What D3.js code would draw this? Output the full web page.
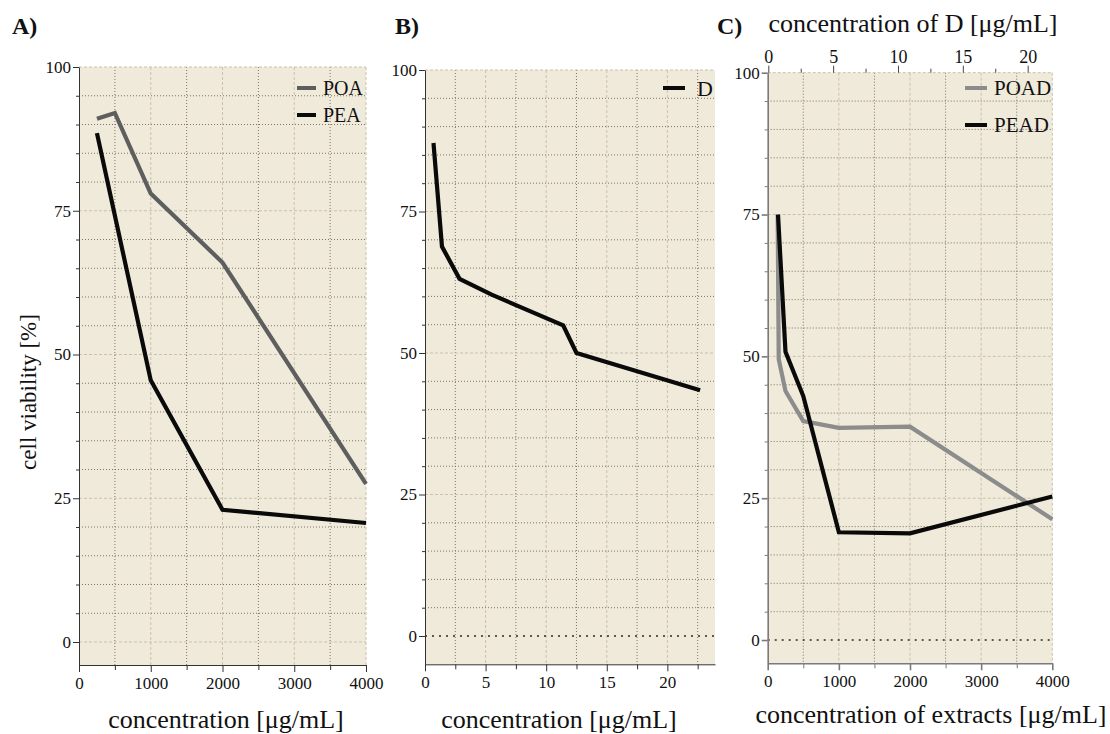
<!DOCTYPE html>
<html>
<head>
<meta charset="utf-8">
<script src="https://cdn.jsdelivr.net/npm/d3@7"></script>
<style>
  body { margin: 0; background: #fff; }
  svg text { font-family: "Liberation Serif", "DejaVu Serif", serif; fill: #111; }
</style>
</head>
<body>
<div id="chart"></div>
<script>
// values
var viabTicks = [0, 25, 50, 75, 100];
var extractTicks = [0, 1000, 2000, 3000, 4000];
var dTicks = [0, 5, 10, 15, 20];

var poaConc = [250, 500, 1000, 2000, 4000];
var poaViab = [91, 92, 78, 66, 27.5];
var peaConc = [250, 1000, 2000, 4000];
var peaViab = [88.5, 45.5, 23, 20.7];

var dConc = [0.7, 1.4, 2.85, 5.5, 11.4, 12.5, 22.7];
var dViab = [87.1, 68.8, 63.1, 60.3, 54.9, 50, 43.4];

var poadConc = [140, 155, 250, 500, 1000, 2000, 4000];
var poadViab = [75, 49.5, 43.9, 38.6, 37.4, 37.6, 21.3];
var peadConc = [145, 250, 500, 1000, 2000, 4000];
var peadViab = [75, 50.8, 43, 19, 18.8, 25.3];

var svg = d3.select("#chart").append("svg")
    .attr("width", 1110)
    .attr("height", 734)
    .attr("font-family", "Liberation Serif, DejaVu Serif, serif");

var bg = "#f0eadb";
var minorGrid = "#7d7464";
var majorGrid = "#cbc1ab";
var fmt = d3.format("d");

function zip(xs, ys) {
    return xs.map(function (v, i) { return [v, ys[i]]; });
}

function drawPanel(p) {
    var g = svg.append("g");
    var x = d3.scaleLinear().domain(p.xDomain).range([p.left, p.right]);
    var y = d3.scaleLinear().domain(p.yDomain).range([p.bottom, p.top]);

    g.append("rect")
        .attr("x", p.left).attr("y", y(100))
        .attr("width", p.right - p.left).attr("height", p.bottom - y(100))
        .attr("fill", bg);

    // vertical grid, half steps dotted darker, whole steps light dashed
    var vx = d3.range(p.xStep / 2, p.xDomain[1] + 0.001, p.xStep / 2);
    g.selectAll(".vgrid").data(vx).enter().append("line")
        .attr("x1", function (d) { return x(d); })
        .attr("x2", function (d) { return x(d); })
        .attr("y1", y(100)).attr("y2", p.bottom)
        .attr("stroke", function (d, i) { return i % 2 == 0 ? minorGrid : majorGrid; })
        .attr("stroke-width", 1)
        .attr("stroke-dasharray", function (d, i) { return i % 2 == 0 ? "1,2" : "3,2"; });

    var hy = d3.range(0, 101, 5);
    g.selectAll(".hgrid").data(hy).enter().append("line")
        .attr("x1", p.left).attr("x2", p.right)
        .attr("y1", function (d) { return y(d); })
        .attr("y2", function (d) { return y(d); })
        .attr("stroke", function (d) {
            if (d == 0 && p.darkZero) return "#2a2a2a";
            return d % 25 == 0 ? majorGrid : minorGrid;
        })
        .attr("stroke-width", function (d) { return d == 0 && p.darkZero ? 1.6 : 1; })
        .attr("stroke-dasharray", function (d) {
            if (d == 0 && p.darkZero) return "2,5";
            return d % 25 == 0 ? "3,2" : "1,2";
        });

    var line = d3.line()
        .x(function (d) { return x(d[0]); })
        .y(function (d) { return y(d[1]); });

    p.series.forEach(function (s) {
        g.append("path")
            .datum(zip(s.conc, s.viab))
            .attr("d", line)
            .attr("fill", "none")
            .attr("stroke", s.color)
            .attr("stroke-width", 4.2);
    });

    // axes
    var yAxis = g.append("g")
        .attr("transform", "translate(" + p.left + ",0)")
        .call(d3.axisLeft(y).tickValues(viabTicks).tickFormat(fmt)
            .tickSize(6).tickSizeOuter(0).tickPadding(2));
    g.append("g")
        .attr("transform", "translate(" + p.left + ",0)")
        .call(d3.axisLeft(y).tickValues(hy.filter(function (d) { return d % 25 != 0; }))
            .tickSize(3).tickSizeOuter(0).tickFormat(""))
        .select(".domain").remove();

    var xAxis = g.append("g")
        .attr("transform", "translate(0," + p.bottom + ")")
        .call(d3.axisBottom(x).tickValues(p.xTicks).tickFormat(fmt)
            .tickSize(7).tickSizeOuter(0).tickPadding(5));
    g.append("g")
        .attr("transform", "translate(0," + p.bottom + ")")
        .call(d3.axisBottom(x).tickValues(p.xTicks.map(function (d) { return d + p.xStep / 2; })
            .filter(function (d) { return d <= p.xDomain[1]; }))
            .tickSize(5).tickSizeOuter(0).tickFormat(""))
        .select(".domain").remove();

    [yAxis, xAxis].forEach(function (a) {
        a.attr("font-family", null).attr("font-size", null);
        a.selectAll("text").attr("font-size", "17px").style("fill", "#111");
        a.selectAll("path,line").attr("stroke", p.axisColor).attr("stroke-width", p.axisWidth);
    });
    g.selectAll(".tick line").attr("stroke", p.axisColor);

    // legend
    p.series.forEach(function (s, i) {
        if (!s.label) return;
        var ly = p.legendY[i];
        g.append("line")
            .attr("x1", p.legendX[0]).attr("x2", p.legendX[1])
            .attr("y1", ly).attr("y2", ly)
            .attr("stroke", s.color).attr("stroke-width", 4);
        g.append("text")
            .attr("x", p.legendX[2]).attr("y", ly + p.legendDy)
            .attr("font-size", p.legendSize)
            .text(s.label);
    });

    return { x: x, y: y, g: g };
}

var panelA = drawPanel({
    left: 79, right: 366, top: 67, bottom: 665,
    xDomain: [0, 4000], yDomain: [-4, 100], xStep: 1000, xTicks: extractTicks,
    axisColor: "#333", axisWidth: 1, darkZero: false,
    series: [
        { conc: poaConc, viab: poaViab, color: "#5e5e5e", label: "POA" },
        { conc: peaConc, viab: peaViab, color: "#0a0a0a", label: "PEA" }
    ],
    legendX: [297, 316, 323], legendY: [88, 115], legendDy: 7, legendSize: "20px"
});

var panelB = drawPanel({
    left: 425, right: 715, top: 70, bottom: 664.3,
    xDomain: [0, 23.93], yDomain: [-5, 100], xStep: 5, xTicks: dTicks,
    axisColor: "#333", axisWidth: 1, darkZero: true,
    series: [
        { conc: dConc, viab: dViab, color: "#0a0a0a", label: "D" }
    ],
    legendX: [663, 685, 697], legendY: [88], legendDy: 8, legendSize: "22px"
});

var panelC = drawPanel({
    left: 767.7, right: 1052.3, top: 72.7, bottom: 663.3,
    xDomain: [0, 4000], yDomain: [-4.1, 100], xStep: 1000, xTicks: extractTicks,
    axisColor: "#7a7a7a", axisWidth: 1.6, darkZero: true,
    series: [
        { conc: poadConc, viab: poadViab, color: "#8c8c8c", label: "POAD" },
        { conc: peadConc, viab: peadViab, color: "#0a0a0a", label: "PEAD" }
    ],
    legendX: [965, 987, 994], legendY: [88, 125], legendDy: 7, legendSize: "21px"
});

// top axis of panel C: concentration of D
var xTop = d3.scaleLinear().domain([0, 21.9]).range([768.3, 1052.3]);
var topAxis = svg.append("g")
    .attr("transform", "translate(0," + panelC.y(100) + ")")
    .call(d3.axisTop(xTop).tickValues(dTicks).tickFormat(fmt)
        .tickSize(7).tickSizeOuter(0).tickPadding(3));
topAxis.select(".domain").remove();
topAxis.attr("font-family", null).attr("font-size", null);
topAxis.selectAll("text").attr("font-size", "18px").style("fill", "#111");
topAxis.selectAll("line").attr("stroke", "#444");
var topMinor = svg.append("g")
    .attr("transform", "translate(0," + panelC.y(100) + ")")
    .call(d3.axisTop(xTop).tickValues([2.5, 7.5, 12.5, 17.5]).tickSize(4).tickFormat(""));
topMinor.select(".domain").remove();
topMinor.selectAll("line").attr("stroke", "#444");

// titles
svg.append("text")
    .attr("transform", "translate(36,392) rotate(-90)")
    .attr("text-anchor", "middle")
    .attr("font-size", "23px")
    .text("cell viability [%]");

svg.append("text").attr("x", 226).attr("y", 728).attr("text-anchor", "middle")
    .attr("font-size", "26px").text("concentration [\u03bcg/mL]");
svg.append("text").attr("x", 559).attr("y", 728).attr("text-anchor", "middle")
    .attr("font-size", "26px").text("concentration [\u03bcg/mL]");
svg.append("text").attr("x", 931).attr("y", 723).attr("text-anchor", "middle")
    .attr("font-size", "26px").text("concentration of extracts [\u03bcg/mL]");
svg.append("text").attr("x", 913).attr("y", 32).attr("text-anchor", "middle")
    .attr("font-size", "26px").text("concentration of D [\u03bcg/mL]");

svg.selectAll("panel_label")
    .data([["A)", 12], ["B)", 395], ["C)", 717]])
    .enter().append("text")
    .attr("x", function (d) { return d[1]; })
    .attr("y", 34)
    .attr("font-size", "24px")
    .attr("font-weight", "bold")
    .text(function (d) { return d[0]; });
</script>
</body>
</html>
